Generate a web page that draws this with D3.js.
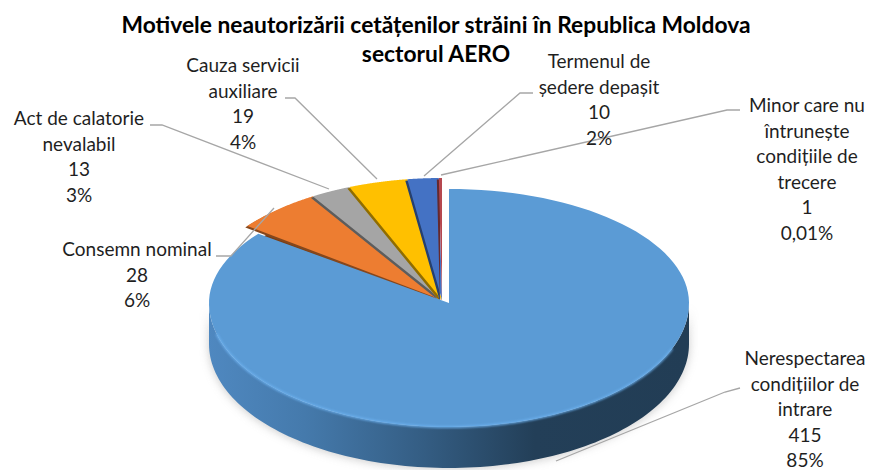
<!DOCTYPE html>
<html><head><meta charset="utf-8">
<script src="https://cdn.jsdelivr.net/npm/d3@7/dist/d3.min.js"></script>
<style>html,body{margin:0;padding:0;background:#fff}svg{display:block}text{font-family:Lato,"Open Sans",sans-serif}</style>
</head><body><svg id="c" width="871" height="470"></svg>
<script>
const categories = ["Nerespectarea condițiilor de intrare","Consemn nominal","Act de calatorie nevalabil","Cauza servicii auxiliare","Termenul de ședere depașit","Minor care nu întrunește condițiile de trecere"];
const values = [415,28,13,19,10,1];
const percents = ["85%","6%","3%","4%","2%","0,01%"];
const labelLines = [["Nerespectarea","condițiilor de","intrare"],["Consemn nominal"],["Act de calatorie","nevalabil"],["Cauza servicii","auxiliare"],["Termenul de","ședere depașit"],["Minor care nu","întrunește","condițiile de","trecere"]];
const colors = ["#5b9bd5","#ed7d31","#a5a5a5","#ffc000","#4472c4","#b5484f"];
const titleLines = ["Motivele neautorizării cetățenilor străini în Republica Moldova","sectorul AERO"];

const labelPos = [[805,359],[137,250],[79,119],[243,66],[599,62],[807,106]];
const leaders = [
 [[740,388],[725,392],[556,461]],
 [[216,256],[231,256],[274,208]],
 [[150,125],[162,125],[329,189]],
 [[285,98],[295,98],[377,179]],
 [[533,93],[520,93],[424,176]],
 [[740,110],[727,110],[441,175]]
];
const LH = 25.6, depth = 41;

const svg = d3.select("#c");
const defs = svg.append("defs");
defs.append("filter").attr("id","blur").attr("x","-20%").attr("y","-20%").attr("width","140%").attr("height","140%")
  .append("feGaussianBlur").attr("stdDeviation",5);
defs.append("filter").attr("id","soft").attr("x","-5%").attr("y","-5%").attr("width","110%").attr("height","110%")
  .append("feGaussianBlur").attr("stdDeviation",1.2);
const g = defs.append("linearGradient").attr("id","side").attr("gradientUnits","userSpaceOnUse")
  .attr("x1",208).attr("x2",688).attr("y1",0).attr("y2",0);
[[0,"#4f88c0"],[0.2,"#457aac"],[0.45,"#345d83"],[0.68,"#233f58"],[1,"#223d55"]]
  .forEach(s=>g.append("stop").attr("offset",s[0]).attr("stop-color",s[1]));

const arcs = d3.pie().sort(null)(values);
const blue = {cx:449,cy:303,rx:240,top:114,bot:124};
const small = {cx:442,cy:300,rx:245,top:122,bot:122};
function pt(e,a,dy=0){const c=Math.cos(a);return [e.cx+e.rx*Math.sin(a), e.cy-(c>0?e.top:e.bot)*c+dy];}
const line = d3.line();
const samples = (a0,a1,n=120)=>d3.range(n+1).map(i=>a0+(a1-a0)*i/n);
function sector(e,d,dx=0,dy=0){
  const p=[[e.cx,e.cy],...samples(d.startAngle,d.endAngle).map(a=>pt(e,a))].map(q=>[q[0]+dx,q[1]+dy]);
  return line(p)+"Z";
}
const sideA = samples(Math.PI/2,Math.PI*1.5);
const sidePath = line([...sideA.map(a=>pt(blue,a)),...sideA.slice().reverse().map(a=>pt(blue,a,depth))])+"Z";
svg.append("path").attr("d",sidePath).attr("fill","#b9b9b9").attr("opacity",0.75)
  .attr("filter","url(#blur)").attr("transform","translate(0,1)");

svg.append("path").attr("d",sector(small,arcs[1],0,20)).attr("fill","#7a3d12");
arcs.slice(1).forEach((d,i)=>{
  svg.append("path").attr("d",sector(small,d,-2,1.5)).attr("fill",d3.color(colors[i+1]).darker(1.6));
  svg.append("path").attr("d",sector(small,d)).attr("fill",colors[i+1]);
});
svg.append("path").attr("d",sidePath).attr("fill","url(#side)");
svg.append("path").attr("d",sector(blue,arcs[0])).attr("fill",colors[0]);
svg.append("path").attr("d",line(samples(Math.PI*0.62,Math.PI*1.42).map(a=>pt(blue,a)))).attr("fill","none")
  .attr("stroke","#6cb0ee").attr("stroke-width",2).attr("filter","url(#soft)");

leaders.forEach(l=>svg.append("path").attr("d",line(l)).attr("fill","none").attr("stroke","#a6a6a6").attr("stroke-width",1.3));

categories.forEach((c,i)=>{
  const lines=[...labelLines[i],String(values[i]),percents[i]];
  const t=svg.append("text").attr("text-anchor","middle").style("font-size","19px").style("fill","#1f1f1f");
  lines.forEach((s,j)=>t.append("tspan").attr("x",labelPos[i][0]).attr("y",labelPos[i][1]+6+j*LH).text(s));
});
titleLines.forEach((s,j)=>svg.append("text").attr("x",436).attr("y",33+j*28.5).attr("text-anchor","middle")
  .style("font-size","22.8px").style("font-weight","700").style("fill","#000").text(s));
</script></body></html>
